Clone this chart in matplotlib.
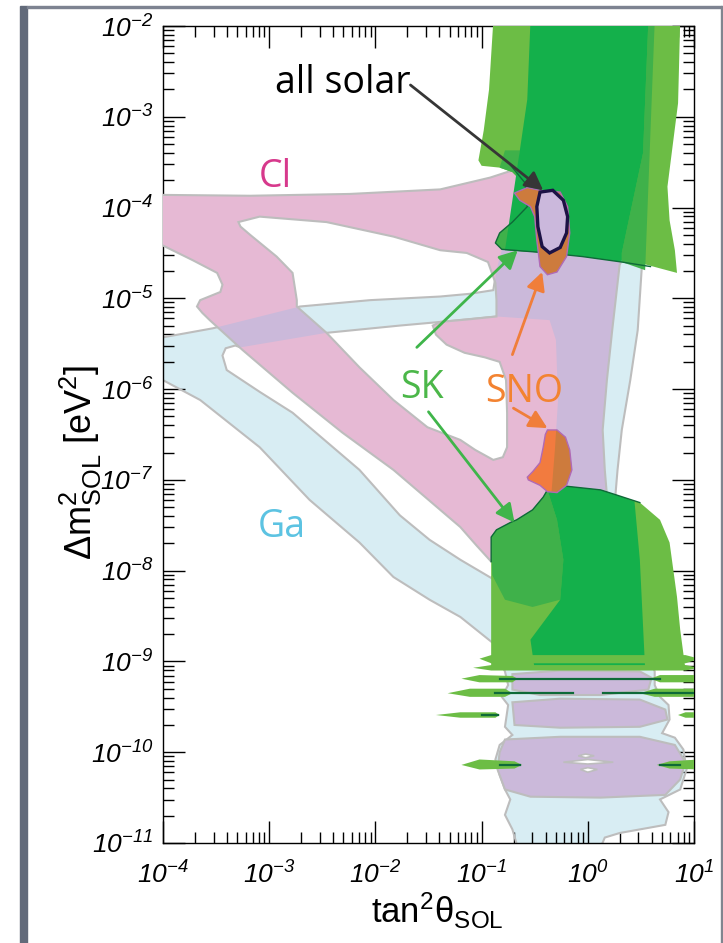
import numpy as np
import matplotlib
matplotlib.use("Agg")
import matplotlib.pyplot as plt
from matplotlib.path import Path
from matplotlib.patches import PathPatch, Polygon, Rectangle
from matplotlib.ticker import LogLocator, FuncFormatter, NullFormatter

plt.rcParams['font.family'] = ['Liberation Sans', 'DejaVu Sans']
plt.rcParams['mathtext.fontset'] = 'custom'
plt.rcParams['mathtext.rm'] = 'Liberation Sans:italic'
plt.rcParams['mathtext.it'] = 'Liberation Sans:italic'
plt.rcParams['mathtext.sf'] = 'Liberation Sans'
plt.rcParams['mathtext.bf'] = 'Liberation Sans:bold'

# allowed regions, vertices as (log10 tan^2 theta, log10 dm^2 / eV^2)
ga_lma = [(-4.05, -5.44), (-3.53, -5.33), (-2.71, -5.09), (-2.05, -5.02), (-1.39, -4.98),
          (-1.11, -4.95), (-0.89, -4.91), (-0.86, -4.69), (-0.81, -4.47), (-0.69, -4.36),
          (-0.54, -4.08), (-0.45, -3.64), (0.49, -3.64), (0.59, -3.92), (0.57, -4.56),
          (0.51, -4.63), (0.47, -5.35), (0.40, -5.90), (0.32, -6.45), (0.28, -6.89),
          (0.26, -7.17), (0.59, -7.88), (0.63, -8.98), (-0.83, -8.98), (-0.89, -8.80),
          (-1.20, -8.51), (-1.49, -8.32), (-1.83, -8.07), (-2.15, -7.69), (-2.62, -7.22),
          (-3.09, -6.64), (-3.65, -6.12), (-4.05, -5.87)]
ga_gap = [(-3.44, -5.63), (-3.41, -5.55), (-3.32, -5.52), (-3.27, -5.54), (-2.46, -5.38),
          (-1.77, -5.30), (-1.39, -5.26), (-0.86, -5.20), (-0.36, -5.24), (-0.30, -5.46),
          (-0.28, -6.12), (-0.31, -6.67), (-0.34, -7.11), (-0.40, -7.66), (-0.73, -7.88),
          (-0.91, -8.08), (-1.20, -7.88), (-1.49, -7.66), (-1.77, -7.39), (-2.15, -6.89),
          (-2.78, -6.26), (-3.09, -6.03), (-3.40, -5.79)]
ga_low = [(-0.83, -9.00), (-0.78, -9.11), (-0.75, -9.26), (-0.81, -9.39), (-0.75, -9.48),
          (-0.78, -9.72), (-0.71, -9.81), (-0.83, -9.92), (-0.87, -10.08), (-0.83, -10.25),
          (-0.78, -10.41), (-0.73, -10.52), (-0.78, -10.69), (-0.71, -10.85), (-0.66, -11.05),
          (0.12, -11.05), (0.16, -10.94), (0.30, -10.89), (0.73, -10.80), (0.76, -10.66),
          (0.68, -10.52), (0.87, -10.41), (0.93, -10.19), (0.90, -9.97), (0.82, -9.84),
          (0.70, -9.79), (0.77, -9.64), (0.76, -9.48), (0.68, -9.39), (0.63, -9.26),
          (0.63, -9.11), (0.59, -9.00)]

cl_main = [(-4.05, -3.86), (-3.18, -3.87), (-2.24, -3.85), (-1.39, -3.80), (-0.92, -3.67),
           (-0.71, -3.59), (-0.45, -3.53), (0.12, -3.59), (0.35, -4.52), (0.30, -4.63),
           (0.23, -5.35), (0.18, -5.90), (0.14, -6.45), (0.16, -6.89), (0.18, -7.17),
           (0.12, -7.88), (-0.45, -8.21), (-0.91, -7.90), (-1.05, -7.72), (-1.20, -7.52),
           (-1.36, -7.36), (-1.83, -6.89), (-2.31, -6.48), (-2.78, -6.04), (-3.25, -5.57),
           (-3.56, -5.24), (-3.63, -5.16), (-3.68, -5.09), (-3.65, -5.02), (-3.46, -4.93),
           (-3.44, -4.85), (-3.49, -4.72), (-3.72, -4.58), (-4.05, -4.39)]
cl_gap = [(-3.29, -4.16), (-3.09, -4.10), (-2.46, -4.16), (-1.83, -4.32), (-1.39, -4.47),
          (-1.14, -4.50), (-0.94, -4.60), (-0.87, -4.83), (-0.86, -5.02), (-0.86, -5.20),
          (-1.11, -5.23), (-1.39, -5.26), (-1.46, -5.30), (-1.43, -5.40), (-1.33, -5.51),
          (-1.16, -5.60), (-0.97, -5.65), (-0.83, -5.70), (-0.77, -5.90), (-0.76, -6.26),
          (-0.76, -6.64), (-0.80, -6.75), (-0.89, -6.78), (-1.06, -6.67), (-1.20, -6.56),
          (-1.51, -6.42), (-1.83, -6.12), (-2.15, -5.76), (-2.46, -5.38), (-2.74, -5.09),
          (-2.74, -5.02), (-2.78, -4.72), (-2.93, -4.54), (-3.18, -4.30), (-3.27, -4.21)]
cl_low1 = [(-0.71, -9.14), (-0.26, -9.10), (0.49, -9.11), (0.60, -9.18), (0.57, -9.31),
           (0.12, -9.37), (-0.45, -9.37), (-0.71, -9.31)]
cl_low2 = [(-0.71, -9.45), (-0.26, -9.41), (0.49, -9.42), (0.73, -9.53), (0.75, -9.64),
           (0.49, -9.72), (-0.26, -9.73), (-0.69, -9.70)]
cl_low3 = [(-0.78, -9.86), (-0.26, -9.83), (0.49, -9.83), (0.82, -9.92), (0.92, -10.11),
           (0.87, -10.30), (0.73, -10.47), (0.12, -10.50), (-0.54, -10.49), (-0.78, -10.41),
           (-0.85, -10.19), (-0.83, -10.00)]
low_holes = [
    [(-0.09, -10.04), (-0.02, -10.02), (0.06, -10.04), (-0.02, -10.06)],
    [(-0.23, -10.11), (0.00, -10.08), (0.24, -10.11), (0.00, -10.13)],
    [(-0.07, -10.19), (0.00, -10.17), (0.09, -10.19), (0.00, -10.22)],
]

sk_hi_outer = [(-0.89, -1.95), (-0.93, -2.70), (-0.98, -3.15), (-1.03, -3.48), (-1.00, -3.54),
               (-0.83, -3.56), (-0.71, -3.61), (-0.59, -3.75), (-0.57, -3.99), (-0.71, -4.16),
               (-0.83, -4.28), (-0.87, -4.39), (-0.81, -4.46), (-0.64, -4.48), (-0.26, -4.51),
               (0.12, -4.54), (0.49, -4.61), (0.68, -4.67), (0.84, -4.72), (0.82, -4.47),
               (0.77, -4.14), (0.75, -3.77), (0.85, -2.85), (0.87, -1.95)]
sk_hi_mid = [(-0.78, -3.37), (-0.83, -3.56), (-0.71, -3.61), (-0.59, -3.75), (-0.57, -3.99),
             (-0.71, -4.16), (-0.83, -4.28), (-0.87, -4.39), (-0.81, -4.46), (-0.69, -4.48),
             (-0.64, -3.37)]
sk_hi_mid2 = [(0.57, -1.95), (0.63, -1.95), (0.54, -4.69), (0.32, -4.60), (0.32, -4.50),
              (0.52, -3.40)]
sk_hi_core = [(-0.54, -1.95), (-0.57, -2.81), (-0.64, -3.37), (-0.71, -3.92), (-0.78, -4.47),
              (-0.38, -4.50), (-0.05, -4.54), (0.32, -4.60), (0.32, -4.50), (0.52, -3.40),
              (0.57, -1.95)]
sk_hi_line = [(-0.73, -3.53), (-0.59, -3.73), (-0.57, -3.99), (-0.71, -4.16), (-0.83, -4.28),
              (-0.87, -4.39), (-0.81, -4.46), (-0.38, -4.50), (-0.05, -4.54), (0.32, -4.60),
              (0.59, -4.65)]

sk_lo_outer = [(-0.91, -7.63), (-0.86, -7.55), (-0.73, -7.47), (-0.67, -7.44), (-0.52, -7.33),
               (-0.42, -7.19), (-0.38, -7.11), (-0.20, -7.07), (0.12, -7.11), (0.28, -7.17),
               (0.49, -7.25), (0.68, -7.44), (0.77, -7.69), (0.84, -8.29), (0.87, -8.65),
               (0.92, -9.09), (-0.91, -9.09)]
sk_lo_mid = [(-0.91, -7.63), (-0.86, -7.55), (-0.73, -7.47), (-0.67, -7.44), (-0.52, -7.33),
             (-0.42, -7.19), (-0.38, -7.11), (-0.29, -7.44), (-0.23, -7.88), (-0.26, -8.32),
             (-0.52, -8.40), (-0.78, -8.32), (-0.90, -8.05)]
sk_lo_core = [(-0.38, -7.11), (-0.20, -7.07), (0.12, -7.11), (0.28, -7.17), (0.44, -7.24),
              (0.49, -7.88), (0.54, -9.09), (-0.50, -9.09), (-0.54, -8.76), (-0.26, -8.32),
              (-0.23, -7.88), (-0.29, -7.44)]
sk_lo_line = [(-0.91, -7.90), (-0.91, -7.63), (-0.86, -7.55), (-0.73, -7.47), (-0.67, -7.44),
              (-0.52, -7.33), (-0.42, -7.19), (-0.38, -7.11), (-0.20, -7.07), (0.12, -7.11),
              (0.28, -7.17), (0.49, -7.25)]

# thin SK islands below the vacuum region
sk_streaks = [
    [(-1.02, -8.97), (-0.91, -8.93), (0.92, -8.93), (1.05, -8.97), (0.92, -9.02), (-0.91, -9.02)],
    [(-1.08, -9.07), (-0.91, -9.04), (0.92, -9.04), (1.05, -9.07), (0.92, -9.10), (-0.91, -9.10)],
    [(-1.19, -9.19), (-1.02, -9.15), (-0.71, -9.16), (-0.66, -9.19), (-0.71, -9.23), (-1.02, -9.23)],
    [(0.59, -9.19), (0.68, -9.15), (1.05, -9.15), (1.05, -9.23), (0.68, -9.23)],
    [(-1.32, -9.35), (-1.11, -9.30), (-0.78, -9.30), (-0.71, -9.35), (-0.78, -9.39), (-1.11, -9.39)],
    [(0.49, -9.35), (0.63, -9.30), (1.05, -9.30), (1.05, -9.39), (0.63, -9.39)],
    [(-1.43, -9.59), (-1.20, -9.56), (-0.87, -9.56), (-0.83, -9.59), (-0.87, -9.62), (-1.20, -9.62)],
    [(0.85, -9.59), (0.92, -9.56), (1.05, -9.56), (1.05, -9.62), (0.92, -9.62)],
    [(-1.19, -10.14), (-1.02, -10.08), (-0.69, -10.10), (-0.62, -10.14), (-0.69, -10.18), (-1.02, -10.19)],
    [(0.65, -10.14), (0.77, -10.10), (1.05, -10.08), (1.05, -10.19), (0.77, -10.18)],
]
sk_cores = [
    [(-0.83, -9.19), (0.68, -9.19)],
    [(-0.87, -9.35), (-0.14, -9.35)],
    [(0.14, -9.35), (1.05, -9.35)],
    [(-1.00, -9.59), (-0.85, -9.59)],
    [(-0.83, -10.14), (-0.64, -10.14)],
    [(0.68, -10.14), (0.87, -10.14)],
]

sno_hi = [(-0.69, -3.84), (-0.57, -3.78), (-0.45, -3.81), (-0.26, -3.83), (-0.19, -3.99),
          (-0.17, -4.28), (-0.20, -4.54), (-0.29, -4.71), (-0.38, -4.74), (-0.45, -4.65),
          (-0.48, -4.36), (-0.50, -4.10), (-0.54, -3.99), (-0.64, -3.92)]
sno_lo = [(-0.38, -6.45), (-0.29, -6.45), (-0.21, -6.53), (-0.17, -6.67), (-0.15, -6.89),
          (-0.20, -7.06), (-0.29, -7.14), (-0.38, -7.13), (-0.45, -7.06), (-0.56, -7.00),
          (-0.57, -6.97), (-0.52, -6.91), (-0.45, -6.81), (-0.42, -6.64), (-0.40, -6.50)]
all_solar = [(-0.45, -3.83), (-0.33, -3.81), (-0.23, -3.92), (-0.19, -4.10), (-0.20, -4.28),
             (-0.26, -4.44), (-0.36, -4.50), (-0.43, -4.43), (-0.47, -4.21), (-0.48, -3.99)]

label_names = ['all solar', 'Cl', 'SK', 'SNO', 'Ga']
label_x = [-2.31, -2.94, -1.56, -0.60, -2.88]
label_y = [-2.74, -3.77, -6.10, -6.14, -7.63]
label_colors = ['black', '#d7398c', '#4bb749', '#f38331', '#5cc3e2']

arrow_tail = [(-1.67, -2.65), (-1.61, -5.54), (-1.50, -6.25), (-0.71, -5.62), (-0.70, -6.21)]
arrow_head = [(-0.42, -3.81), (-0.66, -4.47), (-0.69, -7.47), (-0.43, -4.71), (-0.38, -6.43)]
arrow_colors = ['#363636', '#3fb54a', '#3fb54a', '#f07e3a', '#f07e3a']

GA = '#d8edf3'
CL = '#e6b9d4'
BOTH = '#cbb9da'
EDGE = '#bdbdbd'
G_LIGHT = '#6cbd45'
G_MID = '#3fb14a'
G_DARK = '#14b04b'
G_LINE = '#0e6a38'
SNO_DARK = '#cd7b3d'
SNO_LIGHT = '#f27b3f'
SNO_EDGE = '#b06ab6'


def ring(pts, ccw):
    a = np.asarray(pts, float)
    x, y = a[:, 0], a[:, 1]
    area = 0.5 * np.sum(x * np.roll(y, -1) - np.roll(x, -1) * y)
    if (area > 0) != ccw:
        a = a[::-1]
    return 10.0 ** a


def region(outers, holes=()):
    verts, codes = [], []
    rings = [(r, True) for r in outers] + [(r, False) for r in holes]
    for r, ccw in rings:
        v = ring(r, ccw)
        verts.extend(v)
        verts.append(v[0])
        codes += [Path.MOVETO] + [Path.LINETO] * (len(v) - 1) + [Path.CLOSEPOLY]
    return Path(np.array(verts), codes)


def poly(pts, **kw):
    return Polygon(10.0 ** np.asarray(pts, float), closed=True, **kw)


fig = plt.figure(figsize=(7.23, 9.43), dpi=100)
ax = fig.add_axes([163 / 723, 1 - 843 / 943, 531 / 723, 817 / 943])
ax.set_xscale('log')
ax.set_yscale('log')
ax.set_xlim(1e-4, 1e1)
ax.set_ylim(1e-11, 1e-2)

# Ga and Cl, overlap shown in lavender
ga_path = region([ga_lma, ga_low], [ga_gap])
cl_path = region([cl_main, cl_low1, cl_low2, cl_low3], [cl_gap])
ga_fill = PathPatch(ga_path, fc=GA, ec='none', zorder=1)
ax.add_patch(ga_fill)
ax.add_patch(PathPatch(ga_path, fc='none', ec=EDGE, lw=1.5, zorder=2))
ax.add_patch(PathPatch(cl_path, fc=CL, ec='none', zorder=3))
overlap = PathPatch(cl_path, fc=BOTH, ec='none', zorder=4)
ax.add_patch(overlap)
overlap.set_clip_path(ga_fill)
ax.add_patch(PathPatch(cl_path, fc='none', ec=EDGE, lw=1.5, zorder=5))
for h in low_holes:
    ax.add_patch(poly(h, fc='white', ec=EDGE, lw=1.2, zorder=6))

# SK
for pts, col in [(sk_hi_outer, G_LIGHT), (sk_hi_mid, G_MID), (sk_hi_mid2, G_MID),
                 (sk_hi_core, G_DARK), (sk_lo_outer, G_LIGHT), (sk_lo_mid, G_MID),
                 (sk_lo_core, G_DARK)]:
    ax.add_patch(poly(pts, fc=col, ec='none', zorder=7))
for pts in sk_streaks:
    ax.add_patch(poly(pts, fc=G_LIGHT, ec='none', zorder=7))
for seg in [sk_hi_line, sk_lo_line]:
    s = 10.0 ** np.asarray(seg)
    ax.plot(s[:, 0], s[:, 1], color=G_LINE, lw=1.0, zorder=8)
for seg in sk_cores:
    s = 10.0 ** np.asarray(seg)
    ax.plot(s[:, 0], s[:, 1], color=G_LINE, lw=1.6, zorder=8)

# SNO
ax.add_patch(poly(sno_hi, fc=SNO_DARK, ec=SNO_EDGE, lw=1.0, zorder=9))
ax.add_patch(poly(sno_lo, fc=SNO_LIGHT, ec='none', zorder=9))
sno_lo_ga = poly(sno_lo, fc=SNO_DARK, ec='none', zorder=9.5)
ax.add_patch(sno_lo_ga)
sno_lo_ga.set_clip_path(ga_fill)
ax.add_patch(poly(sno_lo, fc='none', ec=SNO_EDGE, lw=1.0, zorder=9.6))

# combined fit
ax.add_patch(poly(all_solar, fc='#cbb8dc', ec='#1d1245', lw=2.4, zorder=10))

for (tx, ty), (hx, hy), col in zip(arrow_tail, arrow_head, arrow_colors):
    ax.annotate('', xy=(10 ** hx, 10 ** hy), xytext=(10 ** tx, 10 ** ty),
                arrowprops=dict(arrowstyle='-|>,head_length=0.55,head_width=0.28',
                                color=col, lw=2.0, shrinkA=0, shrinkB=0,
                                mutation_scale=20),
                zorder=11)

for name, x, y, col in zip(label_names, label_x, label_y, label_colors):
    ax.text(10 ** x, 10 ** y, name, color=col, fontsize=27, family='Open Sans',
            ha='center', va='baseline', zorder=12)

# axes styling
fmt = FuncFormatter(lambda v, p: r'$10^{%d}$' % int(round(np.log10(v))))
for axis in (ax.xaxis, ax.yaxis):
    axis.set_major_locator(LogLocator(base=10, numticks=20))
    axis.set_minor_locator(LogLocator(base=10, subs=np.arange(2, 10), numticks=200))
    axis.set_minor_formatter(NullFormatter())
    axis.set_major_formatter(fmt)
ax.tick_params(which='both', direction='in', top=True, right=True, width=1.0, color='black')
ax.tick_params(which='major', length=16, labelsize=19)
ax.tick_params(which='minor', length=8)
ax.tick_params(axis='x', which='major', pad=13)
ax.tick_params(axis='y', which='major', pad=7)
for sp in ax.spines.values():
    sp.set_linewidth(1.0)

ax.set_xlabel(r'$\mathsf{tan^2\theta_{SOL}}$', fontsize=25)
ax.set_ylabel(r'$\mathsf{\Delta m^2_{SOL}\ [eV^2]}$', fontsize=26)
ax.xaxis.set_label_coords(0.516, -0.058)
ax.yaxis.set_label_coords(-0.112, 0.466)

# page frame
fig.add_artist(Rectangle((20 / 723, 0), 7 / 723, 937 / 943, transform=fig.transFigure,
                         color='#626a7a', zorder=0))
fig.add_artist(Rectangle((27 / 723, 935.5 / 943), 695 / 723, 1.6 / 943,
                         transform=fig.transFigure, color='#7d8391', zorder=0))
fig.add_artist(Rectangle((720.5 / 723, 0), 1.6 / 723, 937 / 943,
                         transform=fig.transFigure, color='#80858f', zorder=0))

fig.savefig('out.png', dpi=100)
